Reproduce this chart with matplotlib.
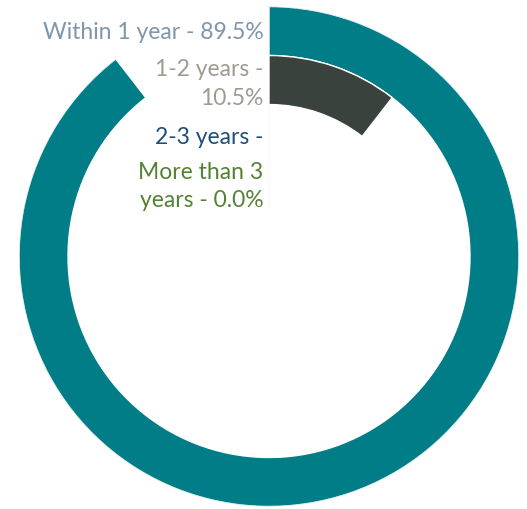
import numpy as np
import matplotlib.pyplot as plt

# data
categories = ['Within 1 year', '1-2 years', '2-3 years', 'More than 3 years']
shares = [89.5, 10.5, 0.0, 0.0]
labels = ['Within 1 year - 89.5%', '1-2 years -\n10.5%', '2-3 years -', 'More than 3\nyears - 0.0%']
bar_colors = ['#007D87', '#3A423D', '#1F4E79', '#548235']
label_colors = ['#7F96AC', '#A09B91', '#1F4E79', '#548235']

plt.rcParams['font.family'] = ['Lato', 'DejaVu Sans']

fig = plt.figure(figsize=(5.27, 5.10), dpi=100)
ax = fig.add_axes([19 / 527, 2.5 / 510, 500 / 527, 500 / 510], projection='polar')
ax.set_theta_zero_location('N')
ax.set_theta_direction(-1)

hole = 1.1
n = len(categories)
for i, (v, c) in enumerate(zip(shares, bar_colors)):
    bottom = hole + (n - 1 - i)
    ax.bar(0, 1, width=np.deg2rad(v / 100 * 360), bottom=bottom, align='edge',
           color=c, edgecolor='white', linewidth=1)

ax.plot([0, 0], [hole, hole + n], color='#E3E3E3', lw=1, zorder=0)

label_off = [-0.02, -0.06, -0.16, -0.16]
for i, (lab, lc) in enumerate(zip(labels, label_colors)):
    r = hole + (n - 1 - i) + 0.5 + label_off[i]
    ax.annotate(lab, xy=(0, r), xytext=(-4, 0), textcoords='offset points',
                ha='right', va='center', multialignment='right', color=lc,
                fontsize=16.5, linespacing=1.42, annotation_clip=False)

ax.set_ylim(0, hole + n)
ax.set_axis_off()

fig.savefig('out.png', dpi=100)
